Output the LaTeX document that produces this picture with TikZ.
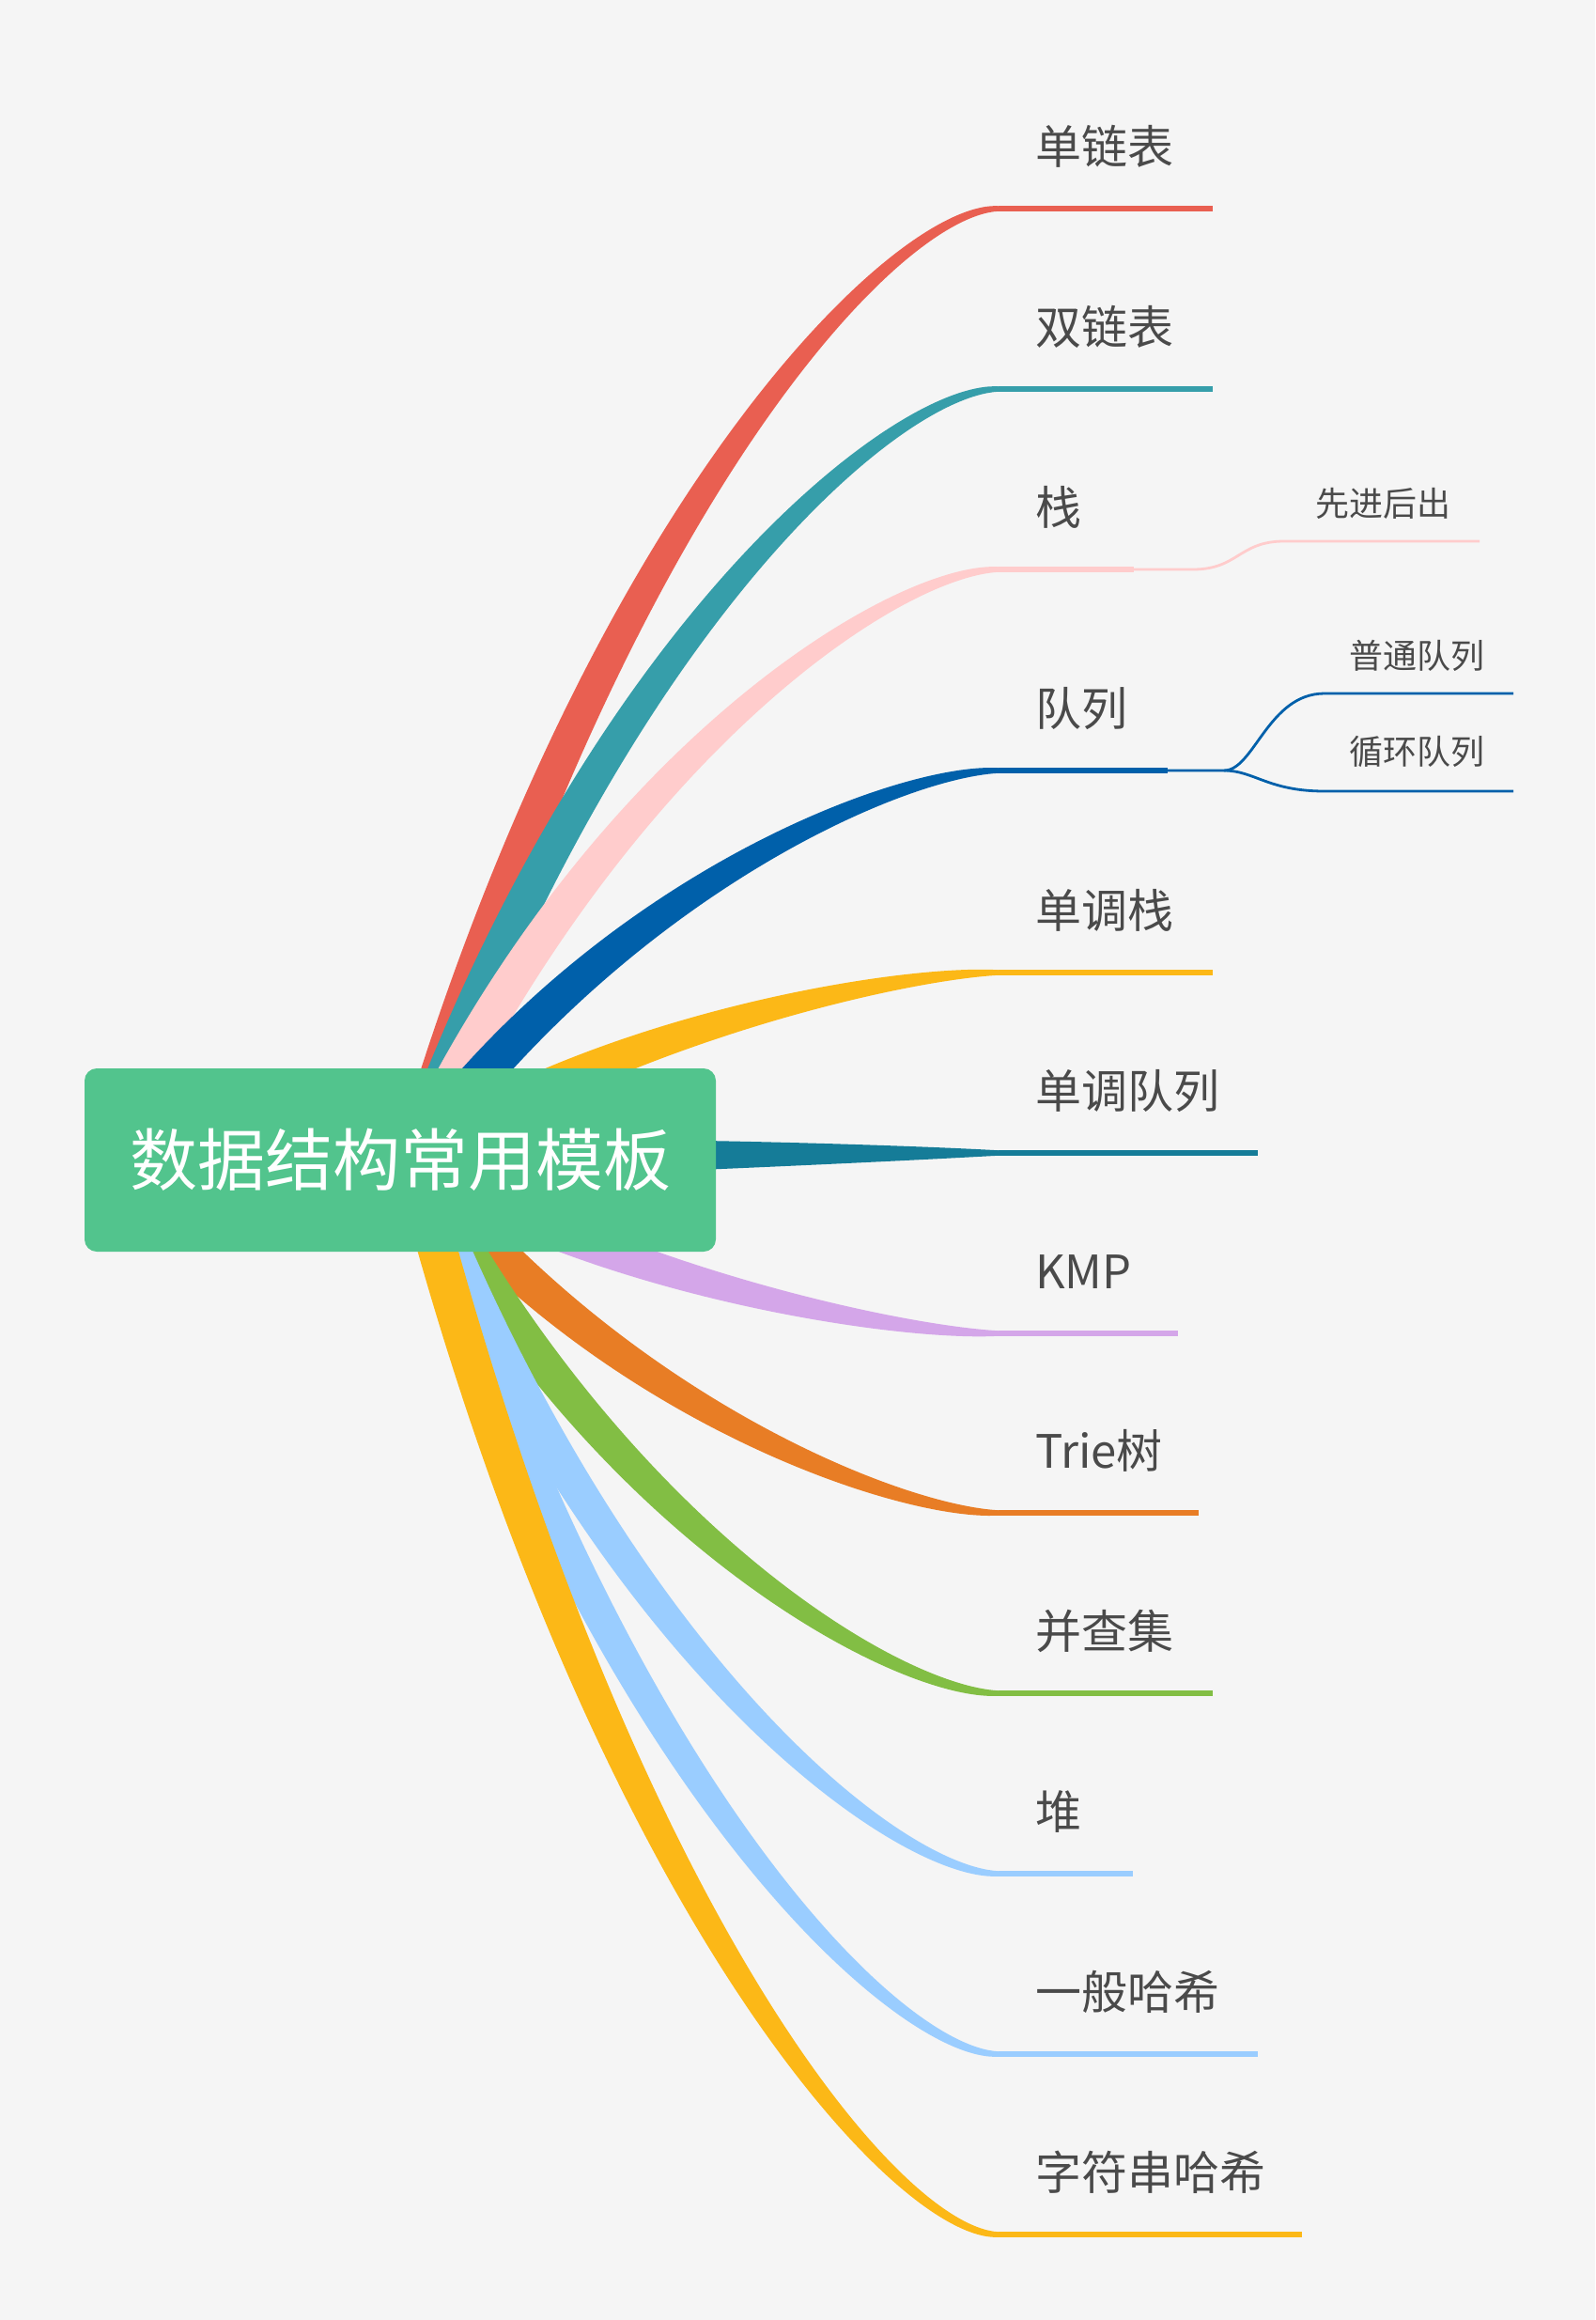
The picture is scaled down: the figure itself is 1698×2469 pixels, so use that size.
\documentclass[tikz,border=0pt]{standalone}
\usepackage{fontspec}
\setmainfont{Noto Sans CJK SC}
\usetikzlibrary{calc}
\definecolor{bg}{HTML}{F5F5F5}
\definecolor{txt}{HTML}{4A4A4A}
\definecolor{rootc}{HTML}{52C48D}
\definecolor{cred}{HTML}{E95F51}
\definecolor{cteal}{HTML}{369EAA}
\definecolor{cpink}{HTML}{FFCCCC}
\definecolor{cblue}{HTML}{0060AA}
\definecolor{cyellow}{HTML}{FCB817}
\definecolor{cdteal}{HTML}{157C98}
\definecolor{cpurple}{HTML}{D4A6E9}
\definecolor{corange}{HTML}{E87D25}
\definecolor{cgreen}{HTML}{82BE44}
\definecolor{clblue}{HTML}{9ACDFF}
% tapered branch: #1 colour, #2 end coordinate
\newcommand\mmbranch[2]{%
  \coordinate (qa) at ($(o)!0.33!(#2)$);
  \coordinate (qb) at ($(o)!0.69!(#2)$);
  \coordinate (p1) at (qa |- qb);
  \coordinate (p2) at ($(#2)+(-110,0)$);
  \coordinate (a0) at ($(o)!21pt!90:(p1)$);
  \coordinate (b0) at ($(o)!21pt!-90:(p1)$);
  \coordinate (a1) at ($(p1)+(a0)-(o)$);
  \coordinate (b1) at ($(p1)+(b0)-(o)$);
  \fill[#1] (a0) .. controls (a1) and ($(p2)+(0,-9)$) .. ($(#2)+(0,-2.75)$)
    -- ($(#2)+(0,2.75)$) .. controls ($(p2)+(0,9)$) and (b1) .. (b0) -- cycle;
}
\begin{document}
\begin{tikzpicture}[x=1pt,y=-1pt,
  lbl/.style={anchor=base west, inner sep=0pt, text=txt, font=\fontsize{49}{58}\selectfont},
  sublbl/.style={anchor=base west, inner sep=0pt, text=txt, font=\fontsize{36}{43}\selectfont},
  stem/.style={line width=5.5pt},
  twig/.style={line width=2.8pt},
  rootbox/.style={fill=rootc, rounded corners=13pt, minimum width=672pt, minimum height=195pt,
    inner sep=0pt, text=white, font=\fontsize{72}{86}\selectfont},
]
\fill[bg] (0,0) rectangle (1698,2469);
\useasboundingbox (0,0) rectangle (1698,2469);

\coordinate (o) at (440,1235);
% branch start points (end of taper) and line ends
\coordinate (s1) at (1063,222);  \coordinate (e1) at (1291,222);
\coordinate (s2) at (1063,414);  \coordinate (e2) at (1291,414);
\coordinate (s3) at (1063,606);  \coordinate (e3) at (1207,606);
\coordinate (s4) at (1063,820);  \coordinate (e4) at (1243,820);
\coordinate (s5) at (1063,1035); \coordinate (e5) at (1291,1035);
\coordinate (s6) at (1063,1227); \coordinate (e6) at (1339,1227);
\coordinate (s7) at (1063,1419); \coordinate (e7) at (1254,1419);
\coordinate (s8) at (1063,1610); \coordinate (e8) at (1276,1610);
\coordinate (s9) at (1063,1802); \coordinate (e9) at (1291,1802);
\coordinate (s10) at (1063,1994); \coordinate (e10) at (1206,1994);
\coordinate (s11) at (1063,2186); \coordinate (e11) at (1339,2186);
\coordinate (s12) at (1063,2378); \coordinate (e12) at (1386,2378);

% tapered branches
\mmbranch{cred}{s1}
\mmbranch{cteal}{s2}
\mmbranch{cpink}{s3}
\mmbranch{cblue}{s4}
\mmbranch{cyellow}{s5}
\mmbranch{cdteal}{s6}
\mmbranch{cpurple}{s7}
\mmbranch{corange}{s8}
\mmbranch{cgreen}{s9}
\mmbranch{clblue}{s10}
\mmbranch{clblue}{s11}
\mmbranch{cyellow}{s12}

% underlines
\draw[stem, cred] (s1) -- (e1);
\draw[stem, cteal] (s2) -- (e2);
\draw[stem, cpink] (s3) -- (e3);
\draw[stem, cblue] (s4) -- (e4);
\draw[stem, cyellow] (s5) -- (e5);
\draw[stem, cdteal] (s6) -- (e6);
\draw[stem, cpurple] (s7) -- (e7);
\draw[stem, corange] (s8) -- (e8);
\draw[stem, cgreen] (s9) -- (e9);
\draw[stem, clblue] (s10) -- (e10);
\draw[stem, clblue] (s11) -- (e11);
\draw[stem, cyellow] (s12) -- (e12);

% sub-branches of 栈
\coordinate (k3) at (1270,606);
\coordinate (m3) at (1367,576);
\coordinate (f3) at (1575,576);
\draw[twig, cpink] (e3) -- (k3) .. controls (1318,606) and (1319,576) .. (m3) -- (f3);

% sub-branches of 队列
\coordinate (fk) at (1303,820);
\coordinate (m41) at (1410,738); \coordinate (f41) at (1611,738);
\coordinate (m42) at (1410,842); \coordinate (f42) at (1611,842);
\draw[twig, cblue] (e4) -- (fk) .. controls (1335,820) and (1350,738) .. (m41) -- (f41);
\draw[twig, cblue] (fk) .. controls (1335,820) and (1350,842) .. (m42) -- (f42);

% labels
\node[lbl] (l1) at (1102,174) {单链表};
\node[lbl] (l2) at (1102,366) {双链表};
\node[lbl] (l3) at (1102,558) {栈};
\node[lbl] (l4) at (1102,772) {队列};
\node[lbl] (l5) at (1102,987) {单调栈};
\node[lbl] (l6) at (1102,1179) {单调队列};
\node[lbl] (l7) at (1102,1371) {KMP};
\node[lbl] (l8) at (1102,1562) {Trie树};
\node[lbl] (l9) at (1102,1754) {并查集};
\node[lbl] (l10) at (1102,1946) {堆};
\node[lbl] (l11) at (1102,2138) {一般哈希};
\node[lbl] (l12) at (1102,2330) {字符串哈希};

\node[sublbl] (n31) at (1400,549) {先进后出};
\node[sublbl] (n41) at (1436,711) {普通队列};
\node[sublbl] (n42) at (1436,813) {循环队列};

% root
\node[rootbox] (root) at (426,1234.5) {数据结构常用模板};
\end{tikzpicture}
\end{document}
